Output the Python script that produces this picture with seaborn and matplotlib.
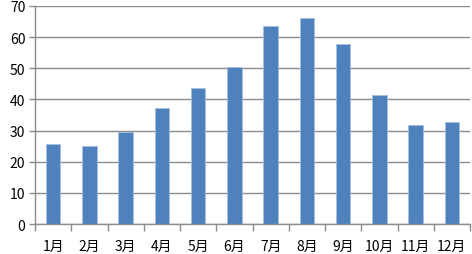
import numpy as np
import pandas as pd
import seaborn as sns
import matplotlib.pyplot as plt
from matplotlib.ticker import FixedLocator

# 월별 값
months = ['1月', '2月', '3月', '4月', '5月', '6月', '7月', '8月', '9月', '10月', '11月', '12月']
values = [25.6, 25.0, 29.5, 37.1, 43.8, 50.4, 63.6, 66.1, 57.9, 41.4, 31.7, 32.6]
y_ticks = [0, 10, 20, 30, 40, 50, 60, 70]

df = pd.DataFrame({'month': months, 'value': values})

sns.set_theme(style="white")
plt.rcParams['font.family'] = ['Noto Sans CJK JP', 'DejaVu Sans']

fig = plt.figure(figsize=(4.72, 2.55), dpi=100)
ax = fig.add_axes([0.0742, 0.1176, 0.9216, 0.855])

sns.barplot(data=df, x='month', y='value', color='#4F81BD', width=0.4,
            edgecolor='#A7BFDE', linewidth=0.6, saturation=1, ax=ax)

ax.set_ylim(0, 70)
ax.set_xlim(-0.5, 11.5)
ax.set_yticks(y_ticks)
ax.yaxis.grid(True, color='#8C8C8C', linewidth=1)
ax.set_axisbelow(True)
ax.set_xlabel('')
ax.set_ylabel('')

for s in ['top', 'right']:
    ax.spines[s].set_visible(False)
for s in ['left', 'bottom']:
    ax.spines[s].set_color('#8C8C8C')
    ax.spines[s].set_linewidth(1)

ax.xaxis.set_minor_locator(FixedLocator(np.arange(-0.5, 12, 1)))
ax.tick_params(axis='x', which='major', length=0, pad=11, labelsize=10, colors='black')
ax.tick_params(axis='x', which='minor', length=5, width=1, color='#8C8C8C', bottom=True)
ax.tick_params(axis='y', which='major', length=4, width=1, color='#8C8C8C', left=True,
               pad=3, labelsize=10, labelcolor='black')

plt.savefig('out.png', dpi=100)
